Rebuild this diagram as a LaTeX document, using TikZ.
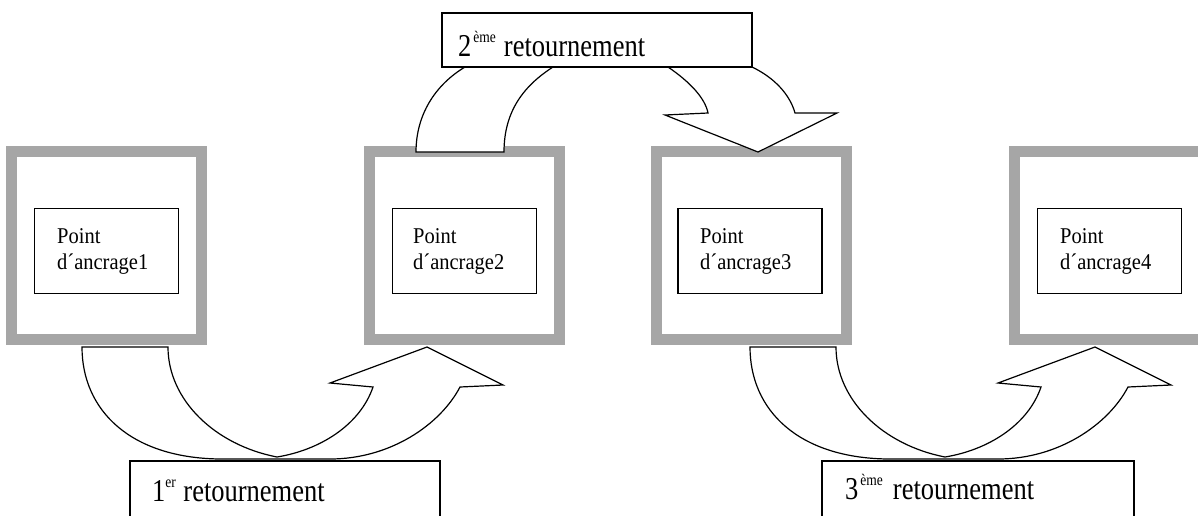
\documentclass[tikz,border=0pt]{standalone}
\usepackage{fontspec}
\setmainfont{Liberation Serif}
% small raised ordinal suffix (ème, er)
\newcommand\supx[1]{\raisebox{0.42em}{\fontsize{13.5}{14}\selectfont #1}}
% slightly tall lettering
\newcommand\tallin[1]{\scalebox{1}[1.1]{#1}}
\newcommand\talllbl[1]{\scalebox{1}[1.2]{#1}}
\tikzset{
  frame/.style={draw=black!35, line width=11pt, minimum width=190pt, minimum height=188pt, inner sep=0pt},
  inbox/.style={draw=black, line width=1.2pt, fill=white, minimum width=144pt, minimum height=85pt, inner sep=0pt},
  lbl/.style={draw=black, line width=1.2pt, fill=white, inner sep=0pt},
  intext/.style={anchor=base west, inner sep=0pt, align=left, font=\fontsize{20.5}{26}\selectfont},
  ltext/.style={anchor=base west, inner sep=0pt, font=\fontsize{26.5}{30}\selectfont},
  blockarrow/.style={draw=black, line width=1.2pt, fill=white, line join=miter},
  uparrow/.pic={
    \draw[blockarrow] (0,0) .. controls (0,63) and (48,111) .. (138,112)
      -- (248,112) .. controls (308,112) and (358,78) .. (378,40)
      -- (421,38) -- (345,0) -- (248,36) -- (291,40)
      .. controls (278,78) and (238,103) .. (195,110)
      .. controls (133,98) and (86,53) .. (86,0) -- cycle;
  }
}
\begin{document}
\begin{tikzpicture}[x=1pt,y=-1pt]
\useasboundingbox (0,0) rectangle (1198,515);
\clip (0,0) rectangle (1198,515);

% grey frames
\node[frame] (f1) at (106,245.5) {};
\node[frame] (f2) at (464,245.5) {};
\node[frame] (f3) at (751,245.5) {};
\node[frame] (f4) at (1109.5,245.5) {};

% anchor point boxes
\node[inbox] (p1) at (106.5,251) {};
\node[inbox] (p2) at (464.5,251) {};
\node[inbox] (p3) at (750,251) {};
\node[inbox] (p4) at (1109.5,251) {};
\node[intext] (p1t) at (57,269) {\tallin{Point}\\\tallin{d´ancrage1}};
\node[intext] (p2t) at (413,269) {\tallin{Point}\\\tallin{d´ancrage2}};
\node[intext] (p3t) at (700,269) {\tallin{Point}\\\tallin{d´ancrage3}};
\node[intext] (p4t) at (1060,269) {\tallin{Point}\\\tallin{d´ancrage4}};

% U-turn arrows below (1st and 3rd)
\pic at (82,347) {uparrow};
\pic at (750,347) {uparrow};

% arch arrow above (2nd)
\draw[blockarrow] (416,152) .. controls (416,115) and (435,85) .. (465,67)
  -- (553,67) .. controls (525,85) and (504,110) .. (504,152) -- cycle;
\draw[blockarrow] (668,67) .. controls (690,82) and (705,98) .. (708,113)
  -- (665,115) -- (758,152) -- (837,113) -- (795,113)
  .. controls (790,95) and (775,78) .. (752,67) -- cycle;

% turn labels
\node[lbl, minimum width=310pt, minimum height=54pt] (r2) at (597,40) {};
\node[ltext] (r2t) at (458,56) {\talllbl{2\hspace{2pt}\supx{ème}\hspace{8pt}retournement}};
\node[lbl, minimum width=310pt, minimum height=74pt] (r1) at (285,498) {};
\node[ltext] (r1t) at (152,501) {\talllbl{1\supx{er}\hspace{7.5pt}retournement}};
\node[lbl, minimum width=312pt, minimum height=74pt] (r3) at (978,498) {};
\node[ltext] (r3t) at (845,499) {\talllbl{3\hspace{2pt}\supx{ème}\hspace{10pt}retournement}};
\end{tikzpicture}
\end{document}
